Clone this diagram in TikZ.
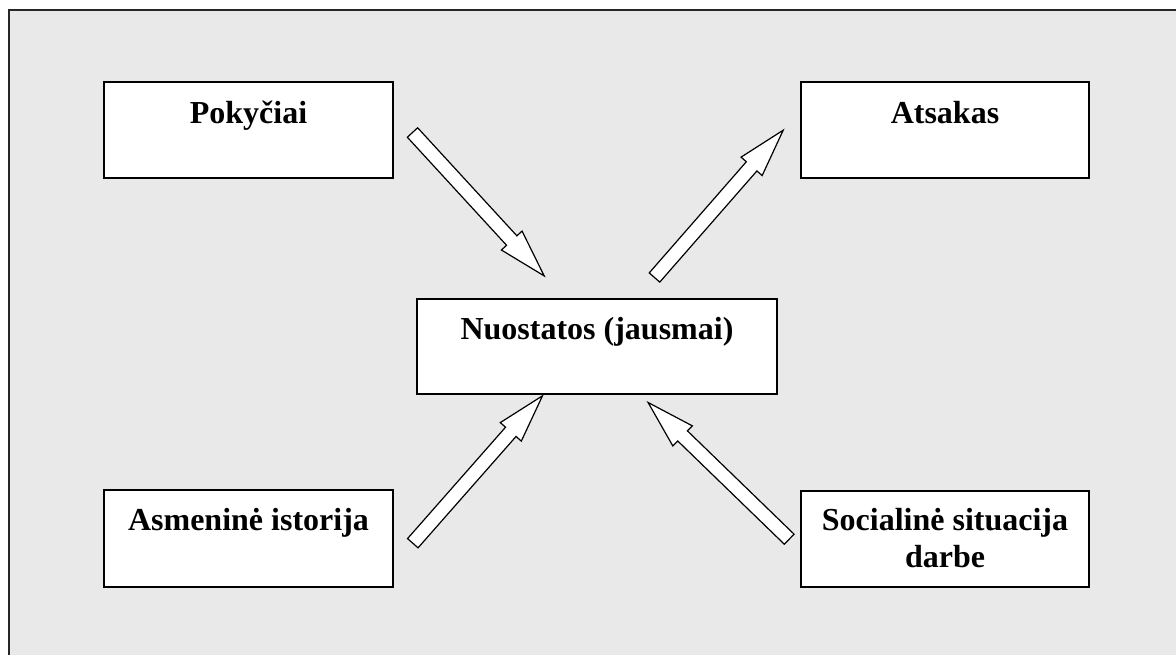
\documentclass[tikz,border=0pt]{standalone}
\usepackage{fontspec}
\setmainfont{Liberation Serif}
\usetikzlibrary{calc}
\definecolor{bggray}{HTML}{E9E9E9}
\tikzset{
  box/.style={draw=black, line width=1.6pt, fill=white, inner sep=0pt, minimum width=289pt, minimum height=96pt},
  lbl/.style={font=\bfseries\fontsize{32}{37}\selectfont, inner sep=0pt, align=center},
  blockarr/.style={draw=black, line width=1.2pt, fill=white, line join=miter},
  frame/.style={draw=black!85, line width=2pt, fill=bggray}
}
\newcommand{\blockarrow}[2]{%
  \coordinate (ba-h) at ($(#2)!48pt!(#1)$);
  \draw[blockarr] ($(#1)!7pt!90:(#2)$) -- ($(ba-h)!7pt!-90:(#1)$) -- ($(ba-h)!14pt!-90:(#1)$) -- (#2) -- ($(ba-h)!14pt!90:(#1)$) -- ($(ba-h)!7pt!90:(#1)$) -- ($(#1)!7pt!-90:(#2)$) -- cycle;}
\begin{document}
\begin{tikzpicture}[x=1pt,y=-1pt]
\useasboundingbox (0,0) rectangle (1176,654);
\clip (0,0) rectangle (1176,654);
\path[frame] (8.5,10) rectangle (1200,680);
% boxes
\node[box] (pok) at (248.5,130) {};
\node[box, minimum width=288pt] (ats) at (945,130) {};
\node[box, minimum width=360pt, minimum height=95pt] (nuo) at (597,346.5) {};
\node[box, minimum height=97pt] (asm) at (248.5,538.5) {};
\node[box, minimum width=288pt] (soc) at (945,539) {};
% labels
\node[lbl, anchor=base] (pokt) at ([yshift=-42pt]pok.north) {Pokyčiai};
\node[lbl, anchor=base] (atst) at ([yshift=-42pt]ats.north) {Atsakas};
\node[lbl, anchor=base] (nuot) at ([yshift=-41pt]nuo.north) {Nuostatos (jausmai)};
\node[lbl, anchor=base] (asmt) at ([yshift=-41pt]asm.north) {Asmeninė istorija};
\node[lbl, anchor=base] (soct1) at ([yshift=-40pt]soc.north) {Socialinė situacija};
\node[lbl, anchor=base] (soct2) at ([yshift=-77pt]soc.north) {darbe};
% arrow end points
\coordinate (a1s) at ([shift={(18.7pt,-51.3pt)}]pok.north east);
\coordinate (a1e) at ([shift={(128pt,22.3pt)}]nuo.north west);
\coordinate (a2s) at ([shift={(-123.3pt,20.7pt)}]nuo.north east);
\coordinate (a2e) at ([shift={(-17pt,-49pt)}]ats.north west);
\coordinate (a3s) at ([shift={(19pt,-54pt)}]asm.north east);
\coordinate (a3e) at ([shift={(126.3pt,-1pt)}]nuo.south west);
\coordinate (a4s) at ([shift={(-11pt,-49pt)}]soc.north west);
\coordinate (a4e) at ([shift={(-129.7pt,-7.7pt)}]nuo.south east);
\blockarrow{a1s}{a1e}
\blockarrow{a2s}{a2e}
\blockarrow{a3s}{a3e}
\blockarrow{a4s}{a4e}
\end{tikzpicture}
\end{document}
